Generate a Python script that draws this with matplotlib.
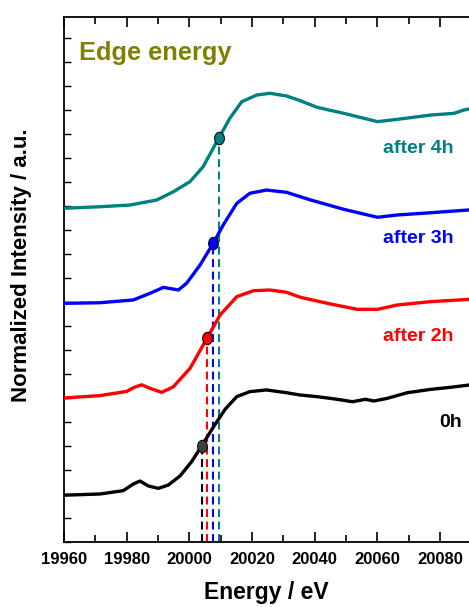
import numpy as np
import matplotlib
matplotlib.use("Agg")
import matplotlib.pyplot as plt
from matplotlib.path import Path
from matplotlib.ticker import MultipleLocator

plt.rcParams['font.family'] = ['Liberation Sans', 'DejaVu Sans']
plt.rcParams['font.weight'] = 'bold'

# Normalized XANES spectra (stacked with vertical offsets)
e_0h = [19960, 19971.5, 19978.9, 19982.1, 19984.2, 19986.9, 19990.1, 19993.3, 19997.0,
        20000.7, 20003.9, 20007.6, 20011.4, 20015.1, 20019.3, 20024.6, 20031.0, 20035.3,
        20040.8, 20047.2, 20052.0, 20056.2, 20058.9, 20063.1, 20069.5, 20077.0, 20083.3,
        20089.2]
i_0h = [0.39, 0.40, 0.428, 0.483, 0.508, 0.467, 0.447, 0.475, 0.55,
        0.669, 0.80, 0.956, 1.106, 1.211, 1.253, 1.267, 1.244, 1.225,
        1.211, 1.189, 1.169, 1.189, 1.175, 1.197, 1.244, 1.272, 1.289,
        1.308]

e_2h = [19960, 19971.5, 19980.0, 19982.5, 19984.8, 19987.4, 19991.2, 19994.9, 20000.2,
        20005.5, 20009.8, 20015.1, 20020.4, 20025.7, 20031.0, 20035.3, 20045.1, 20053.6,
        20060.0, 20066.3, 20077.0, 20089.2]
i_2h = [1.20, 1.22, 1.255, 1.29, 1.31, 1.281, 1.247, 1.294, 1.447,
        1.692, 1.892, 2.044, 2.094, 2.10, 2.081, 2.040, 1.983, 1.939,
        1.939, 1.975, 2.003, 2.022]

e_3h = [19960, 19971.5, 19982.1, 19987.4, 19991.7, 19996.5, 19999.1, 20003.4, 20007.6,
        20010.8, 20015.1, 20019.3, 20024.6, 20031.0, 20035.3, 20038.7, 20049.3, 20060.0,
        20066.3, 20077.0, 20089.2]
i_3h = [1.989, 1.994, 2.017, 2.072, 2.122, 2.10, 2.156, 2.308, 2.489,
        2.642, 2.822, 2.906, 2.933, 2.914, 2.878, 2.85, 2.772, 2.706,
        2.725, 2.744, 2.767]

e_4h = [19960, 19971.5, 19981.0, 19989.6, 19994.9, 20000.2, 20004.4, 20009.2, 20012.9,
        20016.7, 20021.5, 20025.7, 20031.0, 20035.3, 20040.8, 20049.3, 20060.0, 20066.3,
        20077.0, 20084.4, 20087.6, 20089.2]
i_4h = [2.781, 2.794, 2.808, 2.85, 2.919, 3.003, 3.128, 3.358, 3.531,
        3.669, 3.725, 3.739, 3.717, 3.678, 3.622, 3.572, 3.503, 3.522,
        3.558, 3.572, 3.60, 3.608]

# Edge energies (eV) marked on each spectrum
edge_energy = [20003.9, 20005.6, 20007.6, 20009.3]
labels = ['0h', 'after 2h', 'after 3h', 'after 4h']
colors = ['black', '#ff0000', '#0000ff', '#008080']
marker_faces = ['#404040', '#ff0000', '#0000ff', '#008080']
label_pos = [(20087.0, 0.961), (20084.4, 1.678), (20084.4, 2.489), (20084.4, 3.244)]

series = [(e_0h, i_0h), (e_2h, i_2h), (e_3h, i_3h), (e_4h, i_4h)]

fig = plt.figure(figsize=(4.69, 6.07), dpi=100)
ax = fig.add_axes([64 / 469, 65 / 607, 1 - 64 / 469, 525 / 607])

# slightly tall elliptical marker
t = np.linspace(0, 2 * np.pi, 60)
ellipse = Path(np.column_stack([0.78 * np.cos(t), np.sin(t)]), closed=True)

for (e, i), c in zip(series, colors):
    ax.plot(e, i, color=c, lw=2.4, solid_capstyle='round',
            solid_joinstyle='round', zorder=3)

for (e, i), c, fc, ee in zip(series, colors, marker_faces, edge_energy):
    ye = np.interp(ee, e, i)
    ax.plot([ee, ee], [0, ye], color=c, lw=1.5, dashes=(3.8, 2.2), zorder=2)
    ax.plot(ee, ye, marker=ellipse, ms=9, mfc=fc, mec='black', mew=0.7,
            ls='none', zorder=4)

for lab, c, (x, y) in zip(labels, colors, label_pos):
    ax.text(x, y, lab, color=c, fontsize=14, fontweight='bold',
            ha='right', va='baseline')

ax.text(19964.8, 4.017, 'Edge energy', color='#808000', fontsize=18.3,
        fontweight='bold', ha='left', va='baseline')

ax.set_xlim(19960, 20089.2)
ax.set_ylim(0, 4.375)
ax.xaxis.set_major_locator(MultipleLocator(20))
ax.xaxis.set_minor_locator(MultipleLocator(10))
ax.yaxis.set_major_locator(MultipleLocator(0.2))
ax.set_yticklabels([])
ax.tick_params(axis='x', which='major', direction='in', length=7, width=1.2,
               top=True, labelsize=12, pad=7)
ax.tick_params(axis='x', which='minor', direction='in', length=5, width=1.2, top=True)
ax.tick_params(axis='y', which='major', direction='in', length=5, width=1.0, right=False)
for lab in ax.get_xticklabels():
    lab.set_fontweight('bold')
ax.spines['right'].set_visible(False)
for s in ['left', 'top', 'bottom']:
    ax.spines[s].set_linewidth(1.3)

ax.set_xlabel('Energy / eV', fontsize=16.5, fontweight='bold', labelpad=10)
ax.set_ylabel('Normalized Intensity / a.u.', fontsize=16, fontweight='bold',
              va='center')
ax.yaxis.set_label_coords(-0.104, 0.528)

fig.savefig('out.png', dpi=100)
